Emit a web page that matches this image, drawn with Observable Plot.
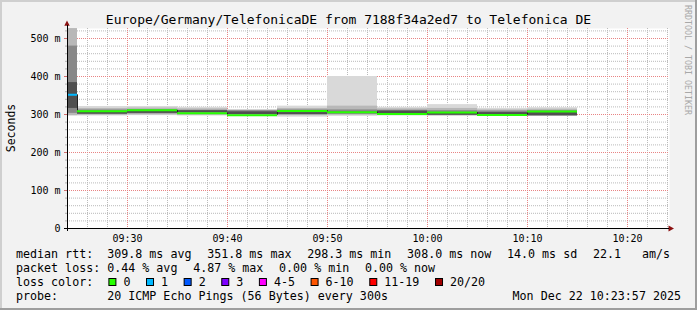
<!DOCTYPE html>
<html><head><meta charset="utf-8">
<script src="https://cdn.jsdelivr.net/npm/d3@7"></script>
<script src="https://cdn.jsdelivr.net/npm/@observablehq/plot@0.6"></script>
<style>
html,body{margin:0;padding:0;background:#f2f2f2;}
#wrap{position:relative;width:697px;height:310px;background:#f2f2f2;overflow:hidden;}
#wrap svg{position:absolute;left:0;top:0;}
</style></head><body><div id="wrap"></div>
<script>
// ---- data ----
const titleText = "Europe/Germany/TelefonicaDE from 7188f34a2ed7 to Telefonica DE";
const endTimes = ["09:25","09:30","09:35","09:40","09:45","09:50","09:55","10:00","10:05","10:10","10:15"];
const medianMs = [351.8, 308.5, 311, 303, 298.3, 309.5, 306, 301, 305, 298.5, 308];
const lostPings = [1, 0, 0, 0, 0, 0, 0, 0, 0, 0, 0];
// smoke shading levels (outer -> inner), ms
const smoke1Lo = [296, 296, 297, 296, 295, 293, 295, 296, 295, 296, 295];
const smoke1Hi = [526, 321, 321, 319, 313, 322, 400, 319, 326, 316, 318];
const smoke2Lo = [297, 298, 299, 298, 297, 297, 298, 298, 297, 297, 296];
const smoke2Hi = [526, 316, 317, 315, 311, 316, 322, 315, 316, 312, 314];
const smoke3Lo = [303, 300, 302, 300, 299, 299, 301, 300, 298, 299, 296];
const smoke3Hi = [480, 312, 313, 311, 310, 312, 312, 311, 310, 309, 310];
const smoke4Lo = [316, 301, 303, 305, 300, 300, 302, 302, 298, 300, 297];
const smoke4Hi = [384, 306, 308, 310, 307, 305, 306, 309, 303, 305, 305];
const yTicks = [0, 100, 200, 300, 400, 500];
const xTickLabels = ["09:30","09:40","09:50","10:00","10:10","10:20"];
const lossLabels = ["0","1","2","3","4-5","6-10","11-19","20/20"];
const lossColors = ["#26ff00","#00b8ff","#0059ff","#7e00ff","#ff00ff","#ff5500","#ff0000","#a00000"];
const lossMaxCount = [0, 1, 2, 3, 5, 10, 19, 20];
const statsMedian = ["309.8 ms avg","351.8 ms max","298.3 ms min","308.0 ms now","14.0 ms sd","22.1   am/s"];
const statsLoss = ["0.44 % avg","4.87 % max","0.00 % min","0.00 % now"];
const probeText = "20 ICMP Echo Pings (56 Bytes) every 300s";
const stampText = "Mon Dec 22 10:23:57 2025";
const unitLabel = "Seconds";
const watermark = "RRDTOOL / TOBI OETIKER";

// ---- build ----
const t = s => { const [h, m] = s.split(":").map(Number); return new Date(2025, 11, 22, h, m); };
const xDomain = [t("09:24"), new Date(2025, 11, 22, 10, 24, 12)];
const yMax = 526.3158;
const lossColor = n => lossColors[lossMaxCount.findIndex(th => n <= th)];
const rows = endTimes.map((e, i) => ({
  i, end: t(e), start: new Date(+t(e) - 300000), median: medianMs[i], loss: lostPings[i]
}));
const bands = [
  [smoke1Lo, smoke1Hi, "#d9d9d9"],
  [smoke2Lo, smoke2Hi, "#b8b8b8"],
  [smoke3Lo, smoke3Hi, "#888888"],
  [smoke4Lo, smoke4Hi, "#505050"]
];
const minorX = d3.timeMinute.every(2).range(xDomain[0], xDomain[1]).filter(d => d.getMinutes() % 10 !== 0);
const majorX = d3.timeMinute.every(10).range(xDomain[0], xDomain[1]);
const minorY = d3.range(20, yMax, 20).filter(v => v % 100 !== 0);
const majorY = yTicks.filter(v => v > 0);

const chart = Plot.plot({
  width: 697, height: 310,
  marginLeft: 67, marginRight: 28, marginTop: 28, marginBottom: 82,
  style: {background: "transparent", fontFamily: "DejaVu Sans Mono", fontSize: "10px", color: "#000", overflow: "visible"},
  x: {type: "time", domain: xDomain},
  y: {domain: [0, yMax]},
  marks: [
    Plot.frame({fill: "white", stroke: "none"}),
    Plot.ruleX(minorX, {stroke: "#bababa", strokeDasharray: "1,1"}),
    Plot.ruleY(minorY, {stroke: "#bababa", strokeDasharray: "1,1"}),
    Plot.ruleX(majorX, {stroke: "#e88484", strokeDasharray: "1,1"}),
    Plot.ruleY(majorY, {stroke: "#e88484", strokeDasharray: "1,1"}),
    ...bands.map(([lo, hi, c]) => Plot.rect(rows, {
      x1: "start", x2: "end", y1: d => lo[d.i], y2: d => hi[d.i], fill: c, clip: true
    })),
    Plot.ruleX(rows.slice(1), {x: "start", y1: d => medianMs[d.i - 1], y2: "median", stroke: "#222", strokeWidth: 1, clip: true}),
    Plot.ruleY(rows, {x1: "start", x2: "end", y: "median", stroke: d => lossColor(d.loss), strokeWidth: 2, clip: true}),
    Plot.axisY(minorY, {tickSize: 2, tickFormat: () => "", stroke: "#b0b0b0", label: null}),
    Plot.axisY(yTicks, {tickSize: 3, tickPadding: 4, tickFormat: d => d === 0 ? "0" : d + " m", stroke: "#d07070", label: null}),
    Plot.axisX(xTickLabels.map(t), {tickSize: 0, tickPadding: 6, tickFormat: d3.timeFormat("%H:%M"), label: null}),
    Plot.ruleY([0], {stroke: "#000"}),
    Plot.ruleX([xDomain[0]], {stroke: "#000"})
  ]
});
const wrap = document.getElementById("wrap");
wrap.appendChild(chart);

// ---- overlay: frame shading, title, legend, arrows ----
const svg = d3.create("svg").attr("width", 697).attr("height", 310)
  .attr("font-family", "DejaVu Sans Mono").style("pointer-events", "none");
svg.append("rect").attr("x", 0).attr("y", 0).attr("width", 697).attr("height", 2).attr("fill", "#cfcfcf");
svg.append("rect").attr("x", 0).attr("y", 0).attr("width", 2).attr("height", 310).attr("fill", "#cfcfcf");
svg.append("rect").attr("x", 695).attr("y", 0).attr("width", 2).attr("height", 310).attr("fill", "#9e9e9e");
svg.append("rect").attr("x", 0).attr("y", 308).attr("width", 697).attr("height", 2).attr("fill", "#9e9e9e");
// arrows
svg.append("path").attr("d", "M64.3,25.7 L69.7,25.7 L67,20.5 Z").attr("fill", "#8b1010");
svg.append("path").attr("d", "M668.5,225.5 L668.5,231.5 L674,228.5 Z").attr("fill", "#8b1010");
svg.append("line").attr("x1", 67.5).attr("x2", 67.5).attr("y1", 25).attr("y2", 231).attr("stroke", "#000");
svg.append("line").attr("x1", 64).attr("x2", 669).attr("y1", 228.5).attr("y2", 228.5).attr("stroke", "#000");
// title
svg.append("text").attr("x", 348.5).attr("y", 24).attr("text-anchor", "middle")
  .attr("font-size", 13).text(titleText);
// unit label
svg.append("text").attr("transform", "translate(15,128) rotate(-90)").attr("text-anchor", "middle")
  .attr("font-size", 11.5).text(unitLabel);
// watermark
svg.append("text").attr("transform", "translate(684.5,5) rotate(90)")
  .attr("font-size", 8.3).attr("fill", "#a8a8a8").text(watermark);
// legend
const FS = 11.67, CW = FS * 0.6021, GAP = 15.6;
function line(items, y) {
  let x = 16;
  for (const s of items) {
    svg.append("text").attr("x", x).attr("y", y).attr("font-size", FS)
      .attr("xml:space", "preserve").style("white-space", "pre").text(s);
    x += s.length * CW + GAP;
  }
}
line(["median rtt:  " + statsMedian[0], ...statsMedian.slice(1)], 257.5);
line(["packet loss: " + statsLoss[0], ...statsLoss.slice(1)], 271.5);
line(["loss color:"], 285.5);
let lx = 16 + 11 * CW + GAP - 0.5;
lossLabels.forEach((lab, k) => {
  svg.append("rect").attr("x", lx + 0.5).attr("y", 278.5).attr("width", 7).attr("height", 7)
    .attr("fill", lossColors[k]).attr("stroke", "#000");
  svg.append("text").attr("x", lx + 15).attr("y", 285.5).attr("font-size", FS).text(lab);
  lx += 15 + lab.length * CW + GAP;
});
line(["probe:       " + probeText], 299.5);
svg.append("text").attr("x", 681).attr("y", 299.5).attr("text-anchor", "end").attr("font-size", FS).text(stampText);
wrap.appendChild(svg.node());
</script></body></html>
